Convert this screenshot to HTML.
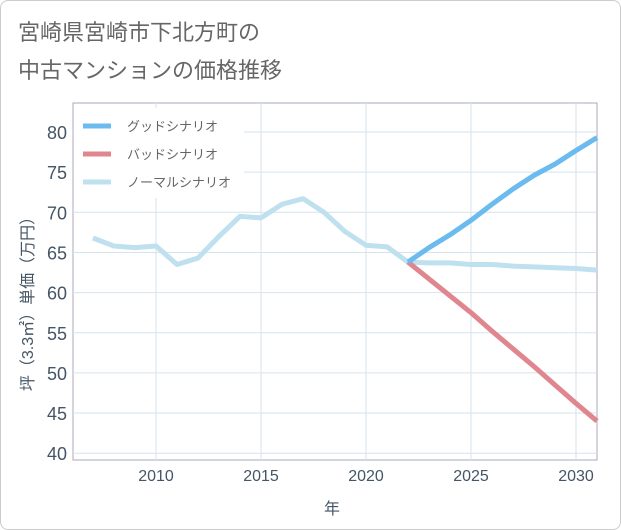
<!DOCTYPE html>
<html><head><meta charset="utf-8"><style>
body{margin:0;background:#fff;font-family:"Liberation Sans","Noto Sans CJK JP",sans-serif;}
#wrap{position:relative;width:619px;height:528px;border:1px solid #ccc;border-radius:8px;overflow:hidden;background:#fff}
</style></head><body>
<div id="wrap">
<svg id="chart" width="621" height="530" style="position:absolute;left:-1px;top:-1px">
<text x="18" y="40" font-size="22" fill="#666" font-family="Liberation Sans, Noto Sans CJK JP, sans-serif">宮崎県宮崎市下北方町の</text>
<text x="18" y="78" font-size="22" fill="#666" font-family="Liberation Sans, Noto Sans CJK JP, sans-serif">中古マンションの価格推移</text>
<g id="grid"></g><g id="lines"></g><g id="axes"></g><g id="legend"></g>
<text x="332" y="514" font-size="16" fill="#456" text-anchor="middle" font-family="Liberation Sans, Noto Sans CJK JP, sans-serif">年</text>
<text transform="translate(33,300) rotate(-90)" font-size="16" fill="#456" text-anchor="middle" font-family="Liberation Sans, Noto Sans CJK JP, sans-serif">坪（3.3㎡）単価（万円）</text>
</svg></div>
<script>
const normalYears=[2007,2008,2009,2010,2011,2012,2013,2014,2015,2016,2017,2018,2019,2020,2021,2022,2023,2024,2025,2026,2027,2028,2029,2030,2031];
const normalValues=[66.8,65.8,65.6,65.8,63.5,64.3,67.0,69.5,69.3,71.0,71.7,70.0,67.6,65.9,65.7,63.8,63.7,63.7,63.5,63.5,63.3,63.2,63.1,63.0,62.8];
const goodYears=[2022,2023,2024,2025,2026,2027,2028,2029,2030,2031];
const goodValues=[63.8,65.6,67.2,69.0,71.0,72.9,74.6,76.0,77.7,79.3];
const badYears=[2022,2023,2024,2025,2026,2027,2028,2029,2030,2031];
const badValues=[63.8,61.7,59.6,57.5,55.2,53.0,50.8,48.5,46.2,44.0];
const yTicks=[40,45,50,55,60,65,70,75,80];
const xTicks=[2010,2015,2020,2025,2030];
const NS="http://www.w3.org/2000/svg";
const L=73,R=597,T=103,B=460;
const xs=y=>156+(y-2010)*21;
const ys=v=>132+(80-v)*8.03;
function mk(tag,attrs,parent){const e=document.createElementNS(NS,tag);for(const k in attrs)e.setAttribute(k,attrs[k]);document.getElementById(parent).appendChild(e);return e;}
const g0=mk('rect',{x:L,y:T,width:R-L,height:B-T,fill:'none',stroke:'#aab',"stroke-width":1},'grid');


yTicks.forEach(v=>{
 const l=mk('line',{x1:L,x2:R,y1:ys(v),y2:ys(v),stroke:'#d5e3ee'},'grid');
 
 
 const t=mk('text',{x:L-6,y:ys(v)+7,"font-size":18,fill:'#456',"text-anchor":'end'},'axes');
 t.textContent=v;
 
 
});
xTicks.forEach(v=>{
 const l=mk('line',{x1:xs(v),x2:xs(v),y1:T,y2:B,stroke:'#d5e3ee'},'grid');
 
 
 const t=mk('text',{x:xs(v),y:B+21,"font-size":16,fill:'#456',"text-anchor":'middle'},'axes');
 t.textContent=v;
 
 
});
function line(xa,va,color,name){
 const p=mk('polyline',{points:xa.map((x,i)=>xs(x)+','+ys(va[i])).join(' '),fill:'none',stroke:color,"stroke-width":5,"stroke-linejoin":'round'},'lines');
 
 
}
line(normalYears,normalValues,'#bfe0ee','normal-scenario-line');
line(badYears,badValues,'#e0868f','bad-scenario-line');
line(goodYears,goodValues,'#6bbbef','good-scenario-line');
const lb=mk('rect',{x:L+1,y:T+5,width:170,height:90,fill:'#fff'},'legend');


[['グッドシナリオ','#6bbbef'],['バッドシナリオ','#e0868f'],['ノーマルシナリオ','#bfe0ee']].forEach((d,i)=>{
 const y=126+i*28;
 const l=mk('line',{x1:83,x2:111,y1:y,y2:y,stroke:d[1],"stroke-width":5},'legend');
 
 
 const t=mk('text',{x:127,y:y+5,"font-size":13,fill:'#666'},'legend');
 t.textContent=d[0];
 
 
});
</script>
</body></html>
